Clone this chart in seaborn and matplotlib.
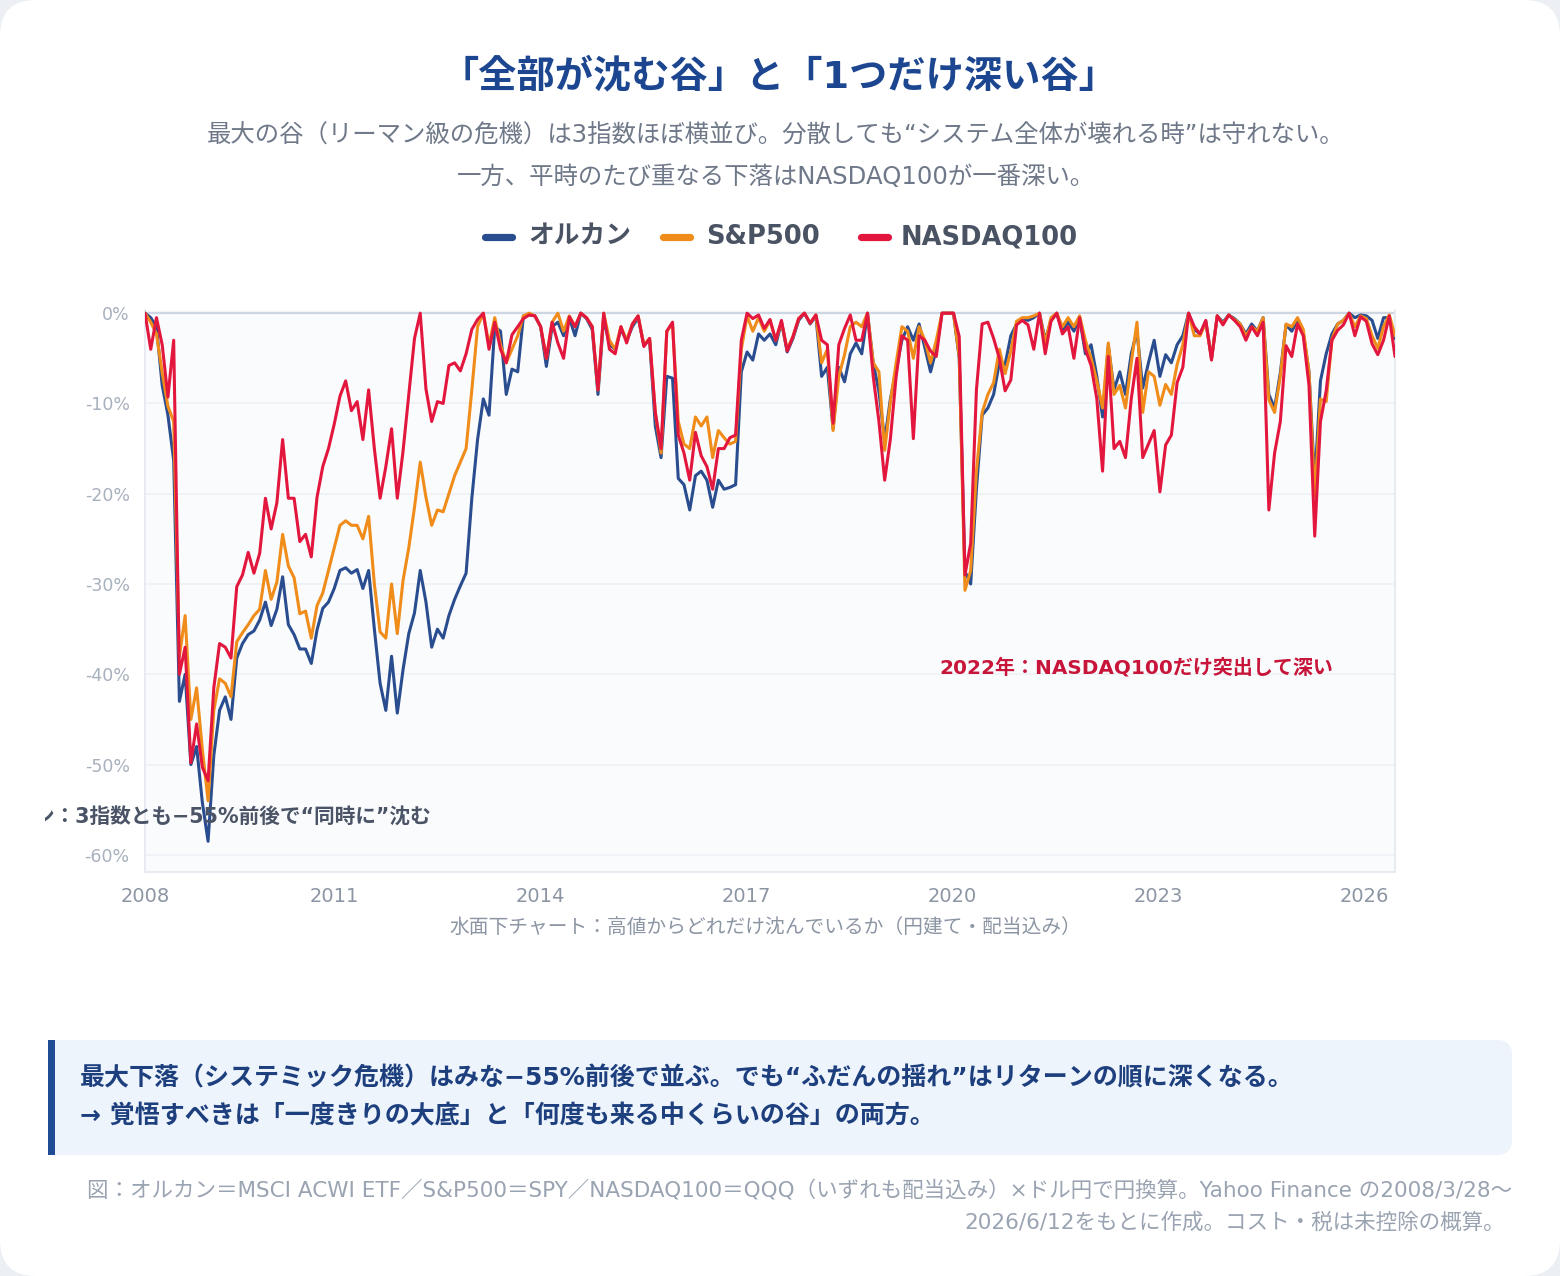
import numpy as np
import pandas as pd
import matplotlib
matplotlib.use("Agg")
import matplotlib.pyplot as plt
import seaborn as sns
from matplotlib.patches import FancyBboxPatch, Rectangle
from matplotlib.lines import Line2D
from matplotlib.transforms import Bbox, TransformedBbox

sns.set_theme(style="white")
plt.rcParams['font.family'] = ['DejaVu Sans', 'Noto Sans CJK JP']

# ---------------- data ----------------
start_date = "2008-03-28"
end_date = "2026-06-12"
series_names = ["オルカン", "S&P500", "NASDAQ100"]
series_colors = ["#2a4d8f", "#f08c1a", "#e3173e"]

acwi = [
    0, -0.5, -1.5, -8, -11.3, -16.3, -43, -40, -50, -48,
    -54.2, -58.5, -49, -44, -42.5, -45, -38.2, -36.6, -35.6, -35.2,
    -34, -32, -34.6, -32.8, -29.2, -34.5, -35.6, -37.2, -37.2, -38.8,
    -35.1, -32.7, -32, -30.5, -28.5, -28.2, -28.8, -28.4, -30.5, -28.5,
    -35, -41, -44, -38, -44.3, -39.5, -35.5, -33.2, -28.5, -32,
    -37, -35, -36, -33.5, -31.7, -30.2, -28.8, -20.5, -14, -9.5,
    -11.3, -1.5, -2, -9, -6.2, -6.5, -0.3, -0.2, -0.3, -1.5,
    -5.9, -1.5, -1, -2.5, -0.5, -2.5, 0, -0.6, -1.8, -9,
    -0.5, -3.5, -4, -1.8, -3, -1.5, -0.5, -3.5, -3, -12.5,
    -16, -7, -7.2, -18.3, -19, -21.8, -18, -17.5, -18.5, -21.5,
    -18.5, -19.5, -19.3, -19, -6.5, -4.3, -5.2, -2.3, -3, -2.3,
    -3.5, -1, -4.3, -2.8, -0.8, 0, -1.2, -0.3, -7, -6,
    -12.8, -6, -7.6, -4.5, -3.3, -4.5, 0, -5.5, -8.7, -14.1,
    -9.5, -6.3, -3, -1.5, -3, -1.2, -3.8, -6.5, -4, 0,
    0, 0, -5, -28.6, -30, -19.5, -11.3, -10.5, -9, -5.5,
    -5.7, -2.5, -1.2, -0.6, -0.8, -0.5, 0, -3, -0.8, 0,
    -2, -1, -2, -0.5, -4.5, -3.5, -7, -11.5, -3.6, -8.5,
    -6.5, -9, -4.5, -2, -8.3, -5.5, -3, -7, -4.6, -5.5,
    -3.5, -2.5, 0, -1.8, -2.3, -0.9, -5, -0.3, -1, -0.2,
    -0.6, -1.2, -2.3, -1.2, -2, -0.5, -9, -10.5, -6.6, -1.3,
    -2, -0.8, -2.2, -6.5, -18.8, -7.5, -4.5, -2.3, -1.2, -0.8,
    0, -0.5, -0.2, -0.3, -0.8, -2.8, -0.5, -0.5, -2.8,
]

sp500 = [
    0, -1, -2.3, -6.6, -10.3, -12, -38, -33.5, -45, -41.5,
    -48.3, -54, -44, -40.5, -41, -42.5, -36.4, -35.4, -34.5, -33.5,
    -32.8, -28.5, -31.7, -29.8, -24.5, -28, -29.3, -33.3, -33, -36,
    -32.4, -31, -28.5, -26, -23.5, -23, -23.5, -23.5, -25, -22.5,
    -30, -35.3, -36, -30, -35.5, -29.6, -26, -21.5, -16.5, -20.4,
    -23.5, -21.8, -22, -20, -18, -16.5, -15, -8.5, -1.5, 0,
    -3.5, -0.5, -3.5, -5.5, -4, -2.5, -0.3, 0, -0.3, -1.5,
    -5, -1, 0, -2, -0.3, -1.5, 0, -0.5, -1.5, -8.5,
    0, -3, -4, -1.5, -3, -1.2, -0.3, -3.5, -2.8, -11,
    -15.5, -2, -1.2, -12, -14.5, -15, -11.5, -12.5, -11.5, -16,
    -13, -13.8, -14.5, -14.2, -4, -0.3, -2, -0.5, -2, -0.8,
    -3, -1, -4, -2.6, -0.6, 0, -1.1, -0.2, -5.5, -4,
    -13, -7, -4.6, -1.5, -1, -1.5, 0, -5.5, -6.5, -15.2,
    -9.8, -5.5, -1.5, -2, -5, -1.5, -3, -5.5, -3, 0,
    0, 0, -4.8, -30.7, -28.5, -17.5, -11, -9, -7.7, -4,
    -6.7, -4.2, -0.9, -0.5, -0.5, -0.3, 0, -3.3, -0.5, 0,
    -1.5, -0.5, -1.5, -0.3, -3, -5, -7.5, -10.5, -3.3, -9,
    -8, -10.5, -5.5, -1, -11, -6.5, -7, -10.2, -7.9, -9,
    -5.7, -3.5, 0, -2.5, -2.5, -1, -5, -0.3, -1.2, -0.2,
    -0.7, -1.2, -2.5, -1.5, -2, -0.5, -9.6, -11, -7, -1.2,
    -1.5, -0.5, -1.8, -6.5, -20.3, -9.5, -9.8, -2.9, -1.2, -0.8,
    0, -1.5, -0.3, -0.6, -2.5, -3.9, -1.5, -0.2, -2.5,
]

nasdaq = [
    0, -4, -0.5, -3.5, -9.3, -3, -40, -37, -49.8, -45.5,
    -50.3, -51.8, -41.5, -36.6, -37, -38.2, -30.3, -29, -26.5, -28.8,
    -26.6, -20.5, -23.9, -21, -14, -20.5, -20.5, -25.3, -24.5, -27,
    -20.4, -17, -15, -12.3, -9.2, -7.5, -10.8, -9.8, -14, -8.5,
    -15, -20.5, -17, -12.8, -20.5, -15.3, -9, -2.8, 0, -8.4,
    -12, -9.8, -10, -5.8, -5.5, -6.4, -4.5, -1.8, -0.7, 0,
    -4, -1, -4, -5.5, -2.4, -1.5, -0.6, -0.2, -0.3, -1.5,
    -5, -1, -3.3, -5, -0.4, -1.5, 0, -0.5, -1.5, -8.5,
    0, -4, -4.5, -1.5, -3.3, -1.2, -0.3, -3.7, -2.8, -11,
    -15, -2, -1, -13.5, -15.5, -18.5, -13.2, -15.8, -17, -19.5,
    -15, -15, -13.8, -13.5, -3, 0, -0.6, -0.2, -1.7, -0.7,
    -3, -0.8, -4.2, -2.6, -0.6, 0, -1.1, -0.2, -3, -3.5,
    -12.2, -3.5, -1.7, -0.2, -3, -3, 0, -7, -12, -18.5,
    -13.9, -7, -2.5, -3, -13.9, -2.5, -3, -4.2, -4.8, 0,
    0, 0, -2.6, -29, -25.5, -8.5, -1.2, -1, -2.8, -5,
    -8.6, -7.4, -1.3, -0.8, -1.3, -4, 0, -4.5, -0.9, 0,
    -2.3, -1.5, -5, -0.5, -4, -5.8, -9.5, -17.5, -4.8, -15,
    -14.2, -16, -9.5, -5, -16, -14.5, -13, -19.8, -14.6, -13.5,
    -7.7, -6, 0, -1.5, -2.3, -0.8, -5.2, -0.3, -1.3, -0.2,
    -0.8, -1.5, -3, -1.5, -2.5, -1, -21.8, -15.5, -12, -3.6,
    -4.8, -1.2, -2.5, -8, -24.7, -12, -8.6, -3, -1.9, -1.3,
    0, -2.5, -0.4, -0.9, -3.4, -4.6, -3, -0.3, -4.8,
]

year_tick_dates = ["2008-03-28", "2011-01-01", "2014-01-01", "2017-01-01",
                   "2020-01-01", "2023-01-01", "2026-01-01"]
year_tick_labels = ["2008", "2011", "2014", "2017", "2020", "2023", "2026"]
y_ticks = [0, -10, -20, -30, -40, -50, -60]

dates = pd.date_range(start_date, end_date, periods=len(acwi))
df = pd.DataFrame({
    "date": np.tile(dates, 3),
    "drawdown": acwi + sp500 + nasdaq,
    "series": np.repeat(series_names, len(acwi)),
})

# ---------------- figure ----------------
W, H = 1560, 1276
fig = plt.figure(figsize=(W / 100, H / 100), dpi=100)
fig.patch.set_facecolor("#eceff4")

def fx(x):
    return x / W

def fy(y):
    return 1 - y / H

card = FancyBboxPatch((0, 0), W / 100, H / 100,
                      boxstyle="round,pad=0,rounding_size=0.36",
                      transform=fig.dpi_scale_trans, facecolor="white",
                      edgecolor="none", zorder=-10)
fig.patches.append(card)

ax = fig.add_axes([fx(145), fy(872), 1250 / W, (872 - 310) / H])
ax.set_facecolor("#fafbfd")

sns.lineplot(data=df, x="date", y="drawdown", hue="series",
             hue_order=series_names, palette=series_colors,
             linewidth=2.2, estimator=None, legend=False, ax=ax, zorder=3)

ax.set_xlim(pd.Timestamp(start_date), pd.Timestamp(end_date))
ax.set_ylim(-61.9, 0.35)
ax.set_yticks(y_ticks)
ax.set_yticklabels([f"{v}%" for v in y_ticks])
ax.set_xticks(pd.to_datetime(year_tick_dates))
ax.set_xticklabels(year_tick_labels)
ax.set_xlabel("")
ax.set_ylabel("")
ax.tick_params(axis="y", length=0, labelsize=12.5, labelcolor="#a7b0bd", pad=11)
ax.tick_params(axis="x", length=0, labelsize=14, labelcolor="#8c95a3", pad=11)
ax.yaxis.grid(True, color="#edf1f6", linewidth=1.2)
ax.xaxis.grid(False)
ax.axhline(0, color="#cdd6e2", linewidth=1.6, zorder=2)
for side in ["left", "bottom", "right"]:
    ax.spines[side].set_color("#e4e9f0")
    ax.spines[side].set_linewidth(1.2)
ax.spines["top"].set_visible(False)

# annotations
ax.text((1136 - 145) / 1250, (872 - 668) / 562, "2022年：NASDAQ100だけ突出して深い",
        transform=ax.transAxes, ha="center", va="center", fontsize=14.4,
        fontweight="bold", color="#c8153a", zorder=5)
t_leh = ax.text((432 - 145) / 1250, (872 - 818) / 562,
                "リーマン：3指数とも−55%前後で“同時に”沈む",
                transform=ax.transAxes, ha="right", va="center", fontsize=14.9,
                fontweight="bold", color="#4a5466", zorder=5)
t_leh.set_clip_box(TransformedBbox(Bbox([[fx(45), 0], [1, 1]]), fig.transFigure))
t_leh.set_clip_on(True)

# title / subtitles
fig.text(fx(779), fy(77), "「全部が沈む谷」と「1つだけ深い谷」", ha="center", va="center",
         fontsize=27.5, fontweight="bold", color="#1d4690")
fig.text(fx(776), fy(136), "最大の谷（リーマン級の危機）は3指数ほぼ横並び。分散しても“システム全体が壊れる時”は守れない。",
         ha="center", va="center", fontsize=17.6, color="#6e7888")
fig.text(fx(776), fy(177), "一方、平時のたび重なる下落はNASDAQ100が一番深い。",
         ha="center", va="center", fontsize=17.6, color="#6e7888")

# legend
legend_handles = [(481, 515, 528), (659, 693, 706), (857, 891, 901)]
for (x0, x1, tx), name, col in zip(legend_handles, series_names, series_colors):
    fig.lines.append(Line2D([fx(x0 + 3.5), fx(x1 - 3.5)], [fy(237), fy(237)],
                            transform=fig.transFigure, color=col, linewidth=5.2,
                            solid_capstyle="round"))
    fig.text(fx(tx), fy(237), name, ha="left", va="center", fontsize=18.5,
             fontweight="bold", color="#4a5363")

# x-axis caption
fig.text(fx(765), fy(927), "水面下チャート：高値からどれだけ沈んでいるか（円建て・配当込み）",
         ha="center", va="center", fontsize=14.2, color="#8c95a3")

# callout box
box = FancyBboxPatch((48 / 100, (H - 1155) / 100), (1512 - 48) / 100, (1155 - 1040) / 100,
                     boxstyle="round,pad=0,rounding_size=0.15",
                     transform=fig.dpi_scale_trans, facecolor="#edf4fc",
                     edgecolor="none", zorder=-5)
fig.patches.append(box)
fig.patches.append(Rectangle((48 / 100, (H - 1155) / 100), 0.3, (1155 - 1040) / 100,
                             transform=fig.dpi_scale_trans, facecolor="#edf4fc",
                             edgecolor="none", zorder=-4))
fig.patches.append(Rectangle((48 / 100, (H - 1155) / 100), 0.07, (1155 - 1040) / 100,
                             transform=fig.dpi_scale_trans, facecolor="#1f4a94",
                             edgecolor="none", zorder=-3))
fig.text(fx(80), fy(1078), "最大下落（システミック危機）はみな−55%前後で並ぶ。でも“ふだんの揺れ”はリターンの順に深くなる。",
         ha="left", va="center", fontsize=18, fontweight="bold", color="#1d3f7e")
fig.text(fx(80), fy(1116), "→ 覚悟すべきは「一度きりの大底」と「何度も来る中くらいの谷」の両方。",
         ha="left", va="center", fontsize=18, fontweight="bold", color="#1d3f7e")

# footer
fig.text(fx(1512), fy(1190), "図：オルカン＝MSCI ACWI ETF／S&P500＝SPY／NASDAQ100＝QQQ（いずれも配当込み）×ドル円で円換算。Yahoo Finance の2008/3/28〜",
         ha="right", va="center", fontsize=15.5, color="#9aa3b1")
fig.text(fx(1505), fy(1222), "2026/6/12をもとに作成。コスト・税は未控除の概算。",
         ha="right", va="center", fontsize=15.5, color="#9aa3b1")

fig.savefig("out.png", dpi=100, facecolor=fig.get_facecolor())
